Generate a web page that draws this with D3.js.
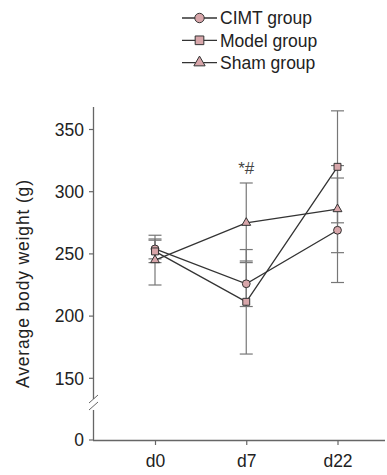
<!DOCTYPE html>
<style>
body { margin: 0; background: #fff; }
text { font-family: "Liberation Sans", Arial, sans-serif; }
</style>
<svg width="387" height="475"></svg>
<script src="https://d3js.org/d3.v7.min.js"></script>
<script>

var days = ["d0", "d7", "d22"];
var groups = ["CIMT group", "Model group", "Sham group"];
var shapes = [d3.symbolCircle, d3.symbolSquare, d3.symbolTriangle];
var means = [
  [254, 226, 269],   // CIMT
  [252, 211.5, 320], // Model
  [245, 275, 286]    // Sham
];
var sds = [
  [8, 18.3, 42],
  [9, 42, 45],
  [20, 32, 35]
];
var yTicks = [0, 150, 200, 250, 300, 350];

var svg = d3.select("svg");

var x = d3.scalePoint()
    .domain(days)
    .range([155, 337.5]);

// broken axis: 0 sits just below the 150 tick
var y = d3.scaleLinear()
    .domain([0, 150, 350])
    .range([440, 378.3, 129.5]);

var axisColor = "#666";

// y axis, two segments with break marks
svg.append("line").attr("x1", 93.5).attr("x2", 93.5).attr("y1", 107).attr("y2", 399)
    .attr("stroke", axisColor).attr("stroke-width", 1.3);
svg.append("line").attr("x1", 93.5).attr("x2", 93.5).attr("y1", 410).attr("y2", 440)
    .attr("stroke", axisColor).attr("stroke-width", 1.3);
[398, 405].forEach(function(b) {
  svg.append("line").attr("x1", 89).attr("x2", 98).attr("y1", b + 5).attr("y2", b - 3)
      .attr("stroke", axisColor).attr("stroke-width", 1);
});

var yAxis = svg.append("g")
    .selectAll("g")
    .data(yTicks)
    .enter().append("g")
      .attr("transform", function(d) { return "translate(0," + y(d) + ")"; });
yAxis.append("line").attr("x1", 89).attr("x2", 93.5).attr("stroke", axisColor).attr("stroke-width", 1.2);
yAxis.append("text")
    .attr("x", 84).attr("dy", "0.36em")
    .attr("text-anchor", "end")
    .attr("font-size", 17.5)
    .attr("fill", "#222")
    .text(function(d) { return d; });

// x axis
svg.append("g")
    .attr("transform", "translate(0,440)")
    .call(d3.axisBottom(x).tickSize(5).tickSizeOuter(0))
    .call(function(g) {
      g.select(".domain").attr("d", "M93,0.5H385").attr("stroke", axisColor).attr("stroke-width", 1.3);
      g.selectAll(".tick line").attr("stroke", axisColor).attr("stroke-width", 1.2);
      g.selectAll(".tick text").attr("font-size", 17.5).attr("fill", "#222")
          .attr("font-family", "Liberation Sans, Arial, sans-serif").attr("dy", "1.1em");
    });

svg.append("text")
    .attr("transform", "translate(29,284) rotate(-90)")
    .attr("text-anchor", "middle")
    .attr("font-size", 17.5)
    .attr("textLength", 208)
    .attr("lengthAdjust", "spacing")
    .attr("fill", "#222")
    .text("Average body weight (g)");

// error bars
groups.forEach(function(gName, gi) {
  days.forEach(function(d, di) {
    var m = means[gi][di], s = sds[gi][di], cx = x(d);
    var eb = svg.append("g").attr("stroke", "#777").attr("stroke-width", 1.2);
    eb.append("line").attr("x1", cx).attr("x2", cx).attr("y1", y(m + s)).attr("y2", y(m - s));
    [m + s, m - s].forEach(function(v) {
      eb.append("line").attr("x1", cx - 6.5).attr("x2", cx + 6.5).attr("y1", y(v)).attr("y2", y(v));
    });
  });
});

// lines
var line = d3.line()
    .x(function(d, i) { return x(days[i]); })
    .y(function(d) { return y(d); });

svg.append("g")
  .selectAll("path")
  .data(means)
  .enter().append("path")
    .attr("d", line)
    .attr("fill", "none")
    .attr("stroke", "#333")
    .attr("stroke-width", 1.3);

// markers
var sizes = [48, 48, 34];
groups.forEach(function(gName, gi) {
  svg.append("g")
    .selectAll("path")
    .data(means[gi])
    .enter().append("path")
      .attr("transform", function(d, i) { return "translate(" + x(days[i]) + "," + y(d) + ")"; })
      .attr("d", d3.symbol().type(shapes[gi]).size(sizes[gi]))
      .attr("fill", "#d8a6aa")
      .attr("stroke", "#333")
      .attr("stroke-width", 1);
});

// significance mark
svg.append("text")
    .attr("x", x("d7"))
    .attr("y", y(307) - 9)
    .attr("text-anchor", "middle")
    .attr("font-family", "Liberation Serif, serif")
    .attr("font-size", 17)
    .attr("fill", "#444")
    .text("*#");

// legend
var lSizes = [70, 75, 55];
var legend = svg.append("g")
  .selectAll("g")
  .data(groups)
  .enter().append("g")
    .attr("transform", function(d, i) { return "translate(0," + (18 + i * 22.3) + ")"; });

legend.append("line")
    .attr("x1", 182).attr("x2", 217)
    .attr("stroke", "#333").attr("stroke-width", 1.3);
legend.append("path")
    .attr("transform", "translate(199.5,0)")
    .attr("d", function(d, i) { return d3.symbol().type(shapes[i]).size(lSizes[i])(); })
    .attr("fill", "#d8a6aa")
    .attr("stroke", "#333")
    .attr("stroke-width", 1);
legend.append("text")
    .attr("x", 220)
    .attr("dy", "0.36em")
    .attr("font-size", 17.5)
    .attr("fill", "#222")
    .text(function(d) { return d; });

</script>
